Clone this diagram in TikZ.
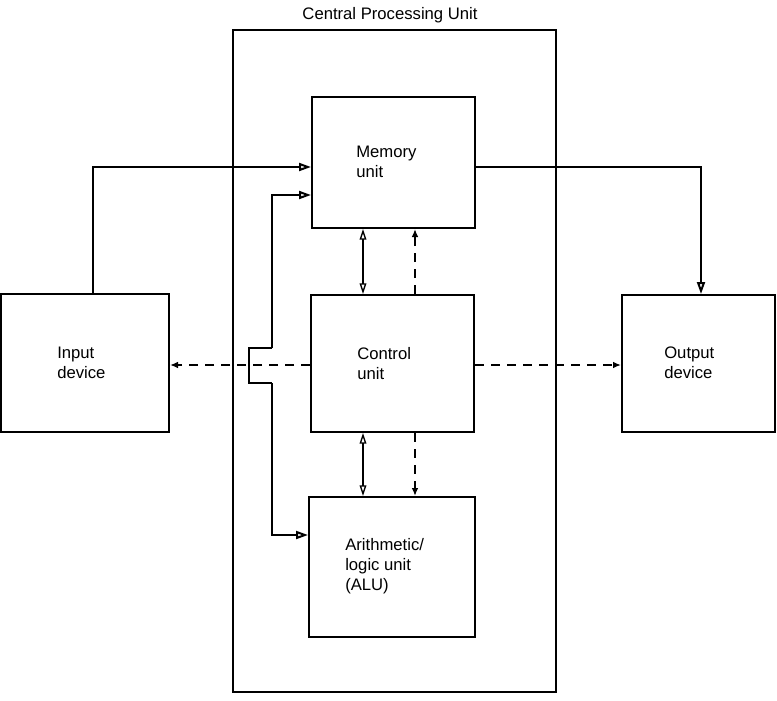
\documentclass[tikz,border=0pt]{standalone}
\usepackage{fontspec}
\setmainfont{Liberation Sans}
\usetikzlibrary{arrows.meta,fit,calc}
\begin{document}
\begin{tikzpicture}[x=0.75pt,y=-0.75pt,
  box/.style={draw, line width=1.5pt, inner sep=0pt},
  lbl/.style={font=\fontsize{12.5}{15}\selectfont, align=left, inner sep=0pt},
  wire/.style={line width=1.5pt},
  openarr/.style={wire, -{Triangle[open, length=9pt, width=6pt]}},
  dblarr/.style={line width=1pt, {Triangle[open, length=8pt, width=5pt]}-{Triangle[open, length=8pt, width=5pt]}},
  dasharr/.style={wire, dash pattern=on 7pt off 5pt, -{Latex[length=6pt, width=5pt]}}]
\useasboundingbox (0,0) rectangle (777,700);
% boxes
\node[box, fit={(233,30) (556,692)}] (cpu) {};
\node[box, fit={(312,97) (475,228)}] (mem) {};
\node[box, fit={(311,295) (474,432)}] (ctl) {};
\node[box, fit={(309,497) (475,637)}] (alu) {};
\node[box, fit={(1,294) (169,432)}] (inp) {};
\node[box, fit={(622,295) (775,432)}] (out) {};
% labels
\node[lbl, anchor=south] (cpulbl) at (390,23) {Central Processing Unit};
\node[lbl, anchor=west] (memlbl) at (356,162) {Memory\\unit};
\node[lbl, anchor=west] (ctllbl) at (357,364) {Control\\unit};
\node[lbl, anchor=west] (alulbl) at (345,566) {Arithmetic/\\logic unit\\(ALU)};
\node[lbl, anchor=west] (inplbl) at (57,363) {Input\\device};
\node[lbl, anchor=west] (outlbl) at (664,363) {Output\\device};
% input -> memory
\draw[openarr] (93,0 |- inp.north) -- (93,167) -- (mem.west |- 0,167);
% memory -> output
\draw[openarr] (mem.east |- 0,167) -- (701,167) -- (701,0 |- out.north);
% bus
\coordinate (b1) at (272,195);
\coordinate (b2) at (272,348);
\coordinate (b3) at (249,348);
\coordinate (b4) at (249,383);
\coordinate (b5) at (272,383);
\coordinate (b6) at (272,535);
\draw[openarr] (b2) -- (b1) -- (mem.west |- b1);
\draw[wire] (b2) -- (b3) -- (b4) -- (b5);
\draw[openarr] (b5) -- (b6) -- (alu.west |- b6);
% memory <-> control
\draw[dblarr] (363,0 |- mem.south) -- (363,0 |- ctl.north);
\draw[dasharr] (415,0 |- ctl.north) -- (415,0 |- mem.south);
% control <-> alu
\draw[dblarr] (363,0 |- ctl.south) -- (363,0 |- alu.north);
\draw[dasharr] (415,0 |- ctl.south) -- (415,0 |- alu.north);
% control -> input / output
\draw[dasharr] (ctl.west |- 0,365) -- (inp.east |- 0,365);
\draw[dasharr] (ctl.east |- 0,365) -- (out.west |- 0,365);
\end{tikzpicture}
\end{document}
